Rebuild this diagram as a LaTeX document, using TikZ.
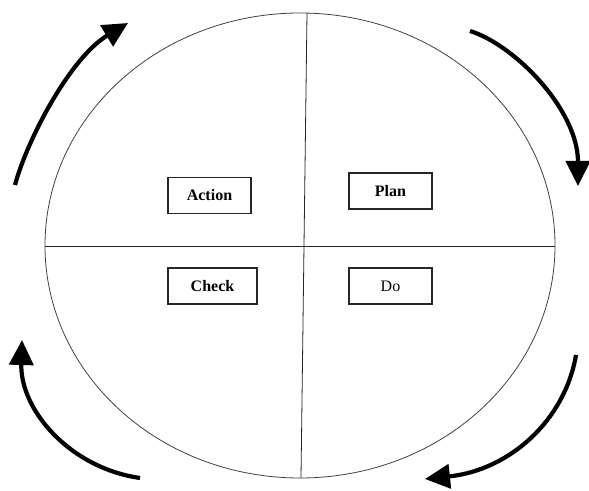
\documentclass[tikz,border=0pt]{standalone}
\usepackage{fontspec}
\setmainfont{Liberation Serif}
\usetikzlibrary{arrows.meta}
\begin{document}
\begin{tikzpicture}[x=1pt,y=1pt,
  stage/.style={draw=black!85,line width=1.1pt,minimum height=36pt,inner sep=0pt,font=\fontsize{16}{18}\selectfont\bfseries},
  cyc/.style={line width=4.2pt,-{Triangle[length=25pt,width=24pt]}},
  thin/.style={draw=black!75,line width=0.8pt}]
\useasboundingbox (0,0) rectangle (589,490);
\draw[thin] (300,244.5) ellipse [x radius=255, y radius=232.5];
\coordinate (hl) at (45,244);
\coordinate (hr) at (555,244);
\coordinate (vt) at (307,477);
\coordinate (vb) at (301,12);
\draw[thin,draw=black!85] (hl) -- (hr);
\draw[thin,draw=black!85] (vt) -- (vb);
\node[stage,minimum width=83pt] (action) at (209.5,294.5) {Action};
\node[stage,minimum width=83pt] (plan) at (390.5,299) {Plan};
\node[stage,minimum width=89pt] (check) at (212.5,204) {Check};
\node[stage,minimum width=83pt,font=\fontsize{16}{18}\selectfont] (do) at (390.5,204) {Do};
\coordinate (a1s) at (15,305);
\coordinate (a1e) at (128,467);
\coordinate (a2s) at (470,459);
\coordinate (a2e) at (578,304);
\coordinate (a3s) at (576,135);
\coordinate (a3e) at (425,11);
\coordinate (a4s) at (140,12);
\coordinate (a4e) at (22,150);
\draw[cyc] (a1s) .. controls (27,350) and (70,432) .. (a1e);
\draw[cyc] (a2s) .. controls (515,445) and (578,380) .. (a2e);
\draw[cyc] (a3s) .. controls (565,70) and (510,20) .. (a3e);
\draw[cyc] (a4s) .. controls (70,22) and (20,80) .. (a4e);
\end{tikzpicture}
\end{document}
